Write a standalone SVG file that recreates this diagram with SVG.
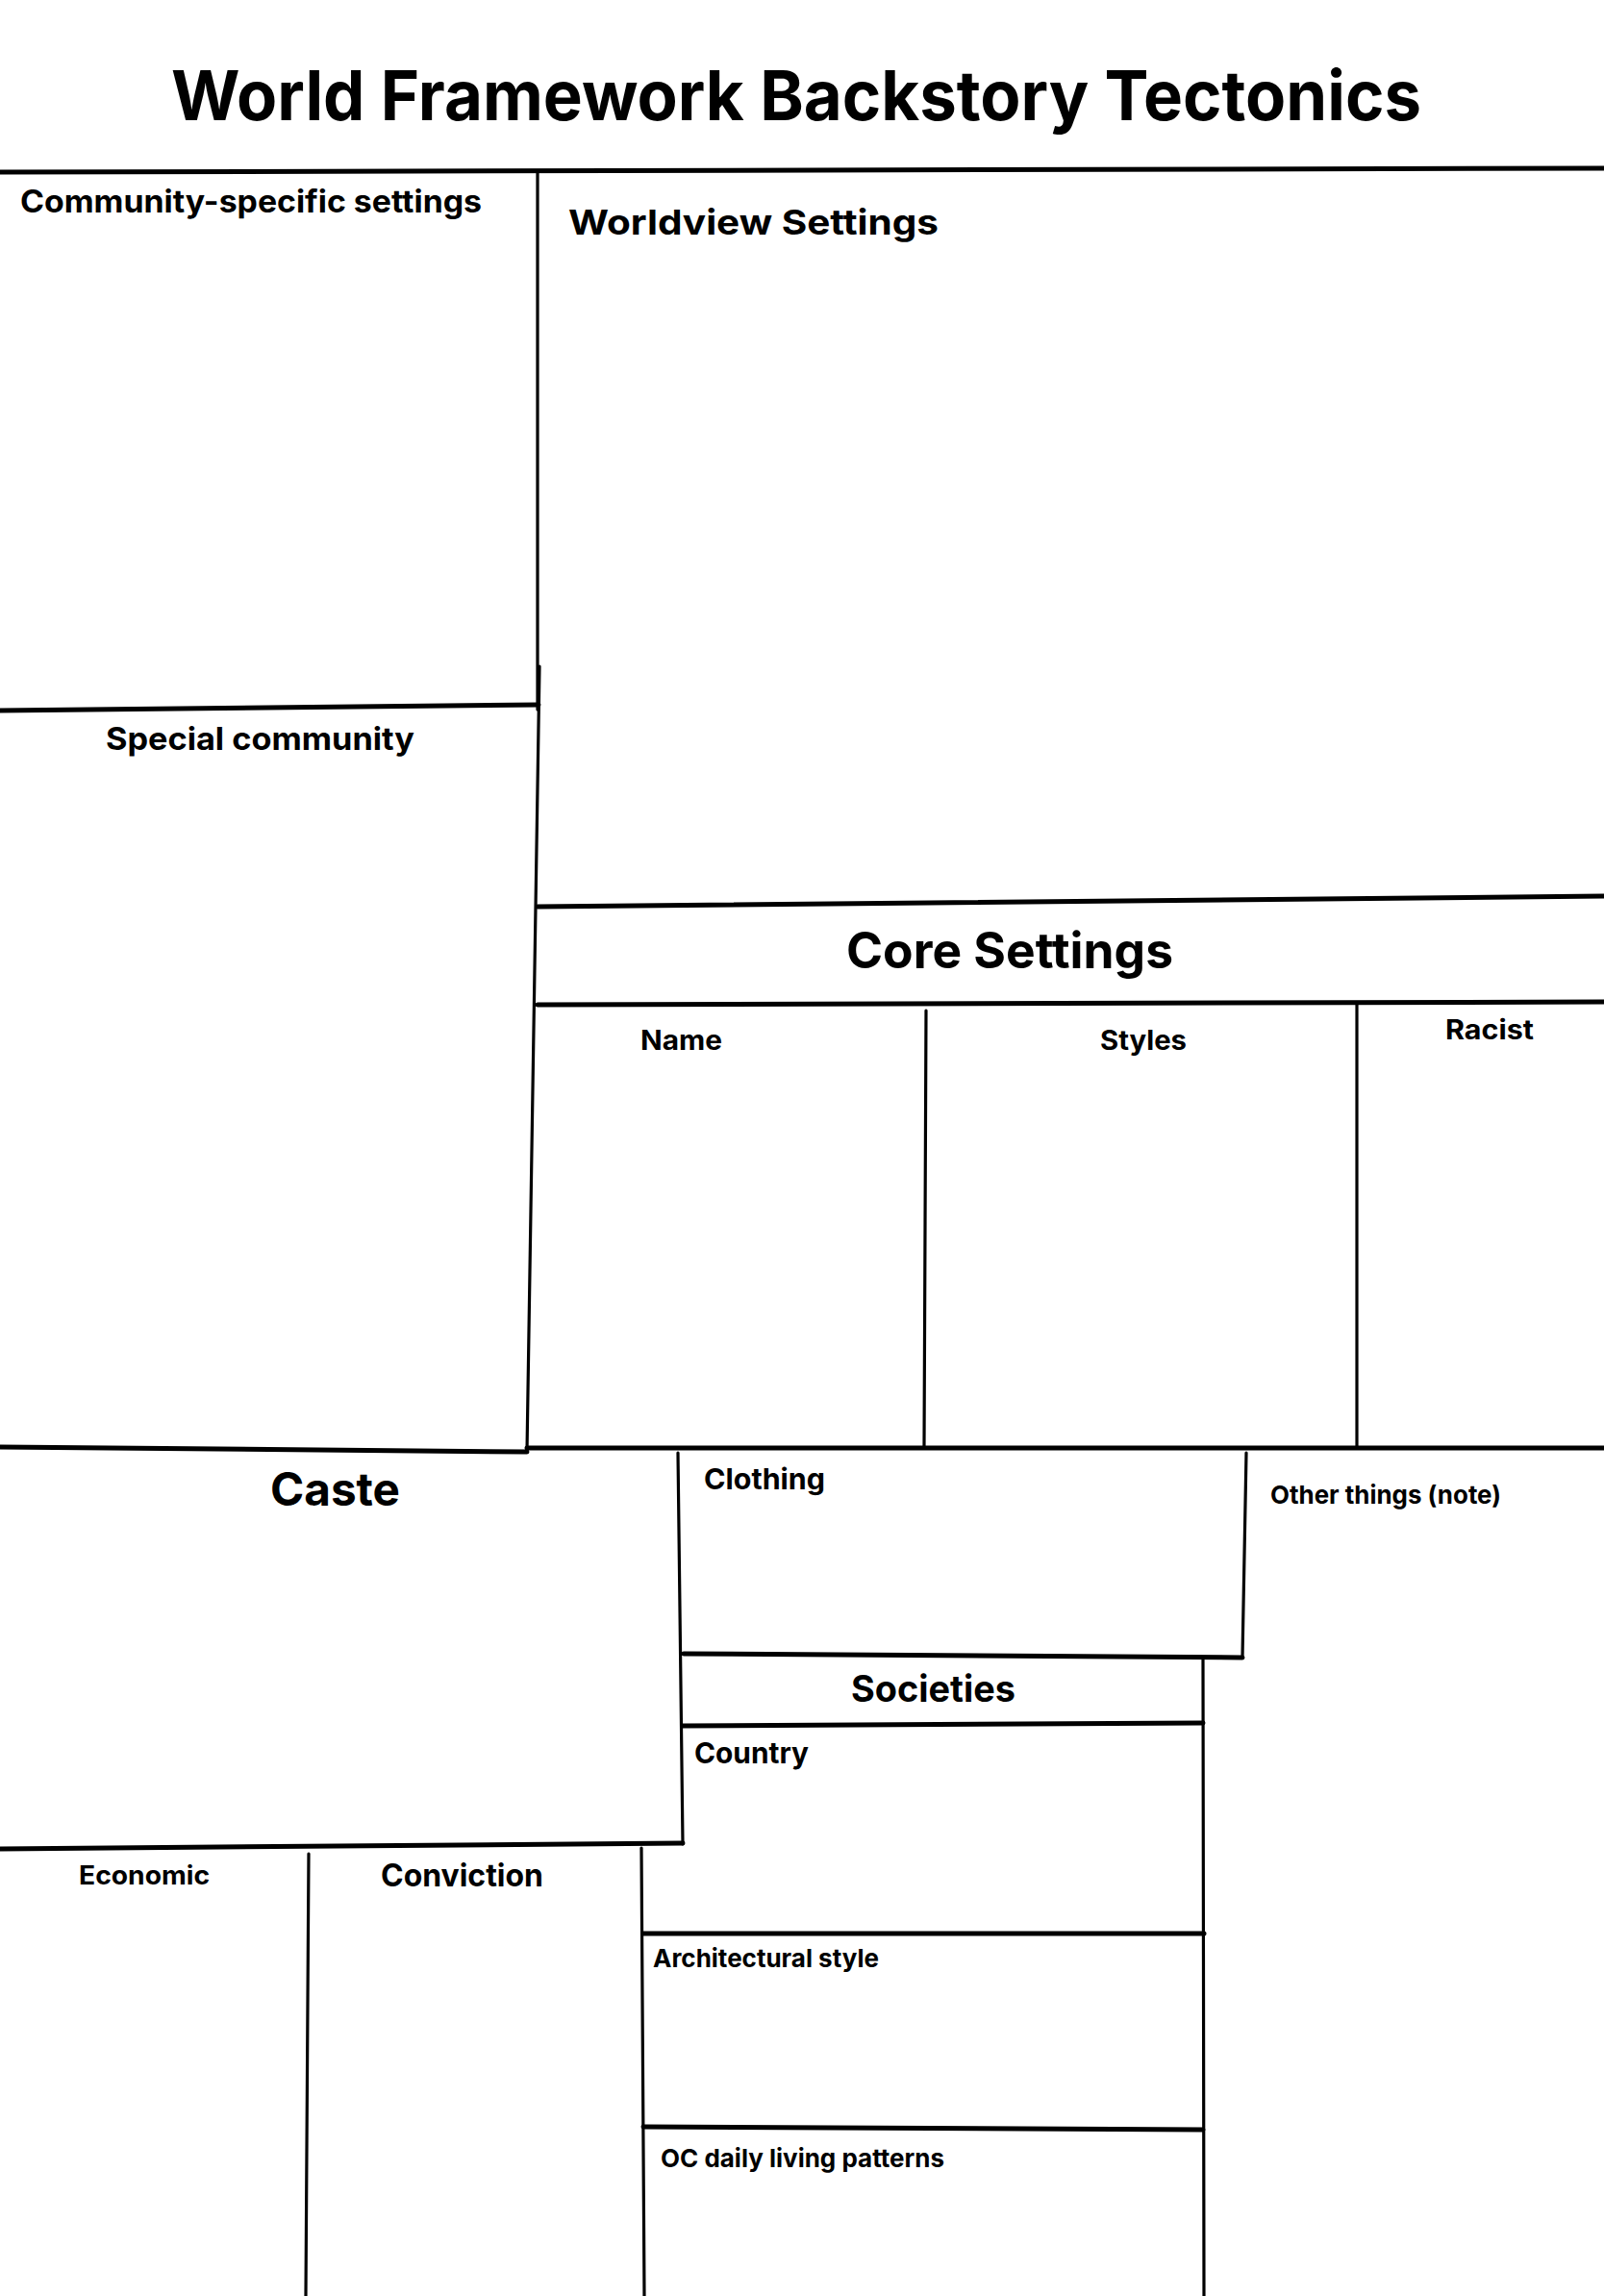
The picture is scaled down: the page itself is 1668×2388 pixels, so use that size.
<svg xmlns="http://www.w3.org/2000/svg" width="1668" height="2388" viewBox="0 0 1668 2388">
<style>
.ln{fill:none;stroke:#000;stroke-linecap:round;stroke-linejoin:round}
.h{stroke-width:5}
.v{stroke-width:3.2}
text{font-family:Inter,"Liberation Sans",sans-serif;font-weight:700;fill:#000}
</style>
<rect x="0" y="0" width="1668" height="2388" fill="#fff"/>
<g id="title"><text x="178" y="125" font-size="72" textLength="1300" lengthAdjust="spacingAndGlyphs">World Framework Backstory Tectonics</text></g>
<g id="dividers">
<path class="ln h" d="M0,179 L1668,175"/>
<path class="ln v" d="M559,180 L559,738"/>
<path class="ln v" d="M561,693 L548,1510"/>
<path class="ln h" d="M0,739 L560,733"/>
<path class="ln h" d="M559,943 L1668,932"/>
<path class="ln h" d="M559,1045 L1668,1042"/>
<path class="ln v" d="M963,1051 L961,1505"/>
<path class="ln v" d="M1411,1045 L1411,1505"/>
<path class="ln h" d="M0,1505 L548,1510"/>
<path class="ln h" d="M548,1506 L1668,1506"/>
<path class="ln v" d="M705,1511 L710,1918"/>
<path class="ln h" d="M0,1923 L710,1917"/>
<path class="ln v" d="M1296,1511 L1292,1724"/>
<path class="ln h" d="M711,1720 L1292,1724"/>
<path class="ln v" d="M1251,1726 L1252,2388"/>
<path class="ln h" d="M710,1795 L1251,1792"/>
<path class="ln h" d="M669,2011 L1252,2011"/>
<path class="ln h" d="M669,2212 L1251,2215"/>
<path class="ln v" d="M667,1922 L670,2388"/>
<path class="ln v" d="M321,1928 L318,2388"/>
</g>
<g id="community-specific-settings"><text x="21" y="221" font-size="32" textLength="480" lengthAdjust="spacingAndGlyphs">Community-specific settings</text></g>
<g id="worldview-settings"><text x="591" y="244" font-size="36" textLength="385" lengthAdjust="spacingAndGlyphs">Worldview Settings</text></g>
<g id="special-community"><text x="110" y="780" font-size="33" textLength="321" lengthAdjust="spacingAndGlyphs">Special community</text></g>
<g id="core-settings"><text x="880" y="1007" font-size="52" textLength="340" lengthAdjust="spacingAndGlyphs">Core Settings</text></g>
<g id="name"><text x="666" y="1092" font-size="28" textLength="85" lengthAdjust="spacingAndGlyphs">Name</text></g>
<g id="styles"><text x="1144" y="1092" font-size="28" textLength="90" lengthAdjust="spacingAndGlyphs">Styles</text></g>
<g id="racist"><text x="1503" y="1081" font-size="28" textLength="92" lengthAdjust="spacingAndGlyphs">Racist</text></g>
<g id="caste"><text x="281" y="1566" font-size="48" textLength="135" lengthAdjust="spacingAndGlyphs">Caste</text></g>
<g id="clothing"><text x="732" y="1549" font-size="30" textLength="126" lengthAdjust="spacingAndGlyphs">Clothing</text></g>
<g id="other-things"><text x="1321" y="1564" font-size="26" textLength="240" lengthAdjust="spacingAndGlyphs">Other things (note)</text></g>
<g id="societies"><text x="885" y="1770" font-size="38" textLength="171" lengthAdjust="spacingAndGlyphs">Societies</text></g>
<g id="country"><text x="722" y="1834" font-size="30" textLength="119" lengthAdjust="spacingAndGlyphs">Country</text></g>
<g id="economic"><text x="82" y="1960" font-size="27" textLength="136" lengthAdjust="spacingAndGlyphs">Economic</text></g>
<g id="conviction"><text x="396" y="1962" font-size="32" textLength="169" lengthAdjust="spacingAndGlyphs">Conviction</text></g>
<g id="architectural-style"><text x="679" y="2046" font-size="26" textLength="235" lengthAdjust="spacingAndGlyphs">Architectural style</text></g>
<g id="oc-daily-living-patterns"><text x="687" y="2254" font-size="26" textLength="295" lengthAdjust="spacingAndGlyphs">OC daily living patterns</text></g>
</svg>
